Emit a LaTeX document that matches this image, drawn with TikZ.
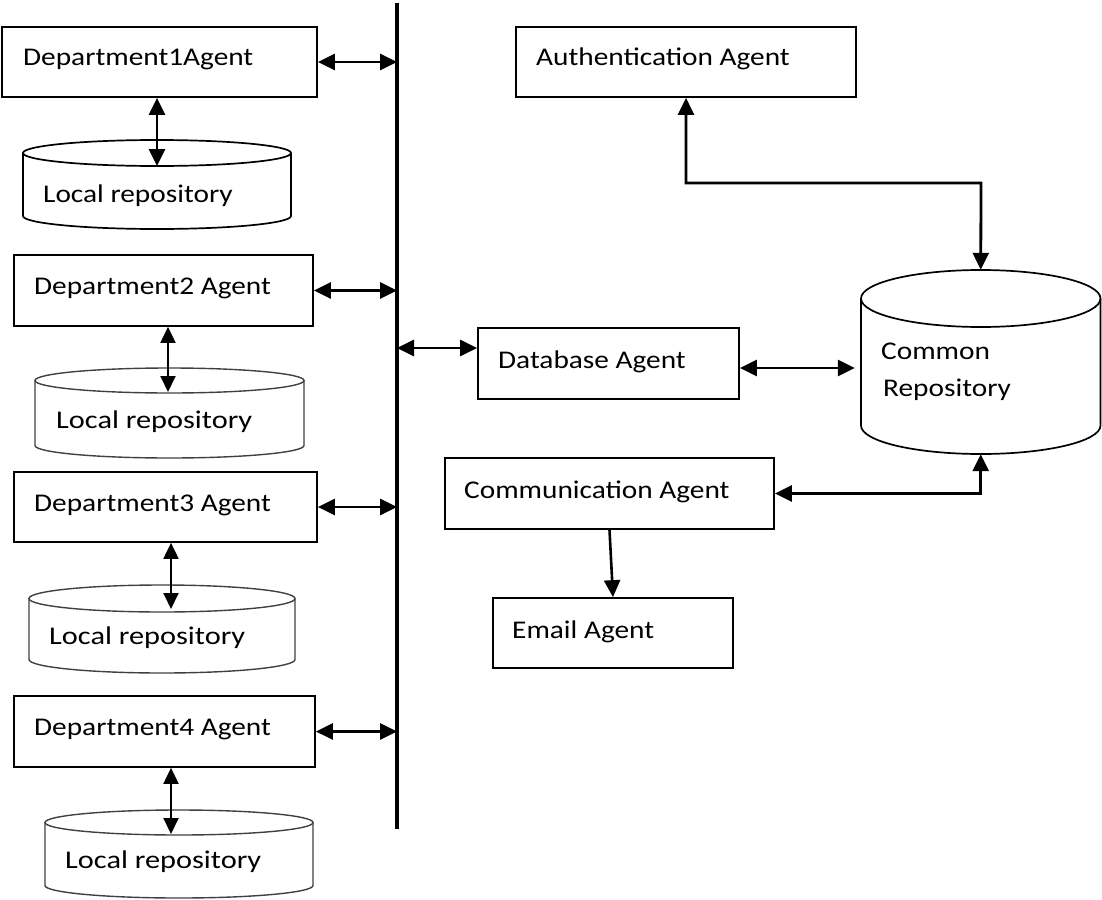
\documentclass[tikz,border=0pt]{standalone}
\usepackage{fontspec}
\setmainfont{Carlito}[FakeStretch=1.15]
\newfontfamily\widefont{Carlito}[FakeStretch=1.19]
\usetikzlibrary{arrows.meta,fit,calc}

\tikzset{
  agentbox/.style={draw, line width=1.7pt, inner sep=0pt},
  lbl/.style={anchor=base west, inner sep=0pt, font=\fontsize{25.5}{30}\selectfont},
  widelbl/.style={lbl, font=\widefont\fontsize{25.5}{30}\selectfont},
  link/.style={line width=2.8pt, {Triangle[length=17pt,width=16pt]}-{Triangle[length=17pt,width=16pt]}},
  thinlink/.style={line width=1.9pt, {Triangle[length=16pt,width=15pt]}-{Triangle[length=16pt,width=15pt]}},
  oneway/.style={line width=2.6pt, -{Triangle[length=17pt,width=16pt]}},
  bus/.style={line width=4pt},
  drum/.style={line width=1.7pt},
  faintdrum/.style={line width=1.4pt, draw=black!75},
}

% storage drum: name, left x, right x, top y, bottom y, lid radius, style
\newcommand\drumshape[7]{%
  \node[fit={(#2,#4)(#3,#5)}, inner sep=0pt] (#1) {};
  \draw[#7] ({(#2+#3)/2},{#4-#6}) ellipse[x radius={(#3-#2)/2}, y radius=#6];
  \draw[#7] (#2,{#4-#6}) -- (#2,{#5+#6})
    arc[start angle=180, end angle=360, x radius={(#3-#2)/2}, y radius=#6]
    -- (#3,{#4-#6});
}

\begin{document}
\begin{tikzpicture}[x=1pt,y=1pt]
\useasboundingbox (0,0) rectangle (1102,-899);

% agent boxes
\node[agentbox, fit={(2,-27)(317,-97)}] (d1) {};
\node[agentbox, fit={(14,-255)(313,-326)}] (d2) {};
\node[agentbox, fit={(14,-472)(317,-542)}] (d3) {};
\node[agentbox, fit={(14,-696)(315,-767)}] (d4) {};
\node[agentbox, fit={(516,-27)(856,-97)}] (auth) {};
\node[agentbox, fit={(478,-328)(739,-399)}] (db) {};
\node[agentbox, fit={(445,-458)(774,-529)}] (comm) {};
\node[agentbox, fit={(493,-598)(733,-668)}] (email) {};

% repositories
\drumshape{l1}{23}{291}{-140}{-229}{13}{drum}
\drumshape{l2}{35}{304}{-368}{-458}{12.5}{faintdrum}
\drumshape{l3}{29}{295}{-585}{-673}{13.5}{faintdrum}
\drumshape{l4}{45}{313}{-810}{-898}{12.5}{faintdrum}
\drumshape{common}{861}{1100.5}{-270}{-454}{28.5}{drum}

% labels
\node[lbl] (t1) at (23,-65) {Department1Agent};
\node[lbl] (t2) at (34,-294) {Department2 Agent};
\node[lbl] (t3) at (34,-511) {Department3 Agent};
\node[lbl] (t4) at (34,-735) {Department4 Agent};
\node[lbl] (ta) at (536,-65) {Authentication Agent};
\node[lbl] (tdb) at (498,-368) {Database Agent};
\node[lbl] (tc) at (464,-498) {Communication Agent};
\node[lbl] (te) at (512,-638) {Email Agent};
\node[lbl] (tcr1) at (881,-359) {Common};
\node[lbl] (tcr2) at (883,-396) {Repository};
\node[lbl] (tl1) at (43,-202) {Local repository};
\node[widelbl] (tl2) at (56,-428) {Local repository};
\node[widelbl] (tl3) at (49,-644) {Local repository};
\node[widelbl] (tl4) at (65,-868) {Local repository};

% message bus
\coordinate (bustop) at (397,-3);
\coordinate (busend) at (397,-829);
\draw[bus] (bustop) -- (busend);

% departments to bus
\draw[link] (d1.east) -- (d1.east -| bustop);
\draw[link] (d2.east) -- (d2.east -| bustop);
\draw[link] (d3.east) -- (d3.east -| bustop);
\draw[link] (d4.east) -- (d4.east -| bustop);

% departments to local repositories
\coordinate (l1lid) at (157,-166);
\coordinate (l2lid) at (168,-392);
\coordinate (l3lid) at (171,-609);
\coordinate (l4lid) at (171,-834);
\draw[link] (l1lid |- d1.south) -- (l1lid);
\draw[thinlink] (l2lid |- d2.south) -- (l2lid);
\draw[thinlink] (l3lid |- d3.south) -- (l3lid);
\draw[thinlink] (l4lid |- d4.south) -- (l4lid);

% database agent
\coordinate (busdb) at (397,-348);
\draw[link] (busdb) -- (busdb -| db.west);
\draw[link, shorten >=6pt] ([yshift=-4.5pt]db.east) -- ([yshift=-4.5pt]db.east -| common.west);

% authentication agent
\coordinate (authbend) at (981,-183);
\draw[link] (auth.south) |- (authbend) -- (common.north);

% communication and email agents
\draw[link] (comm.east) -| (common.south);
\draw[oneway] (comm.south) -- (email.north);
\end{tikzpicture}
\end{document}
